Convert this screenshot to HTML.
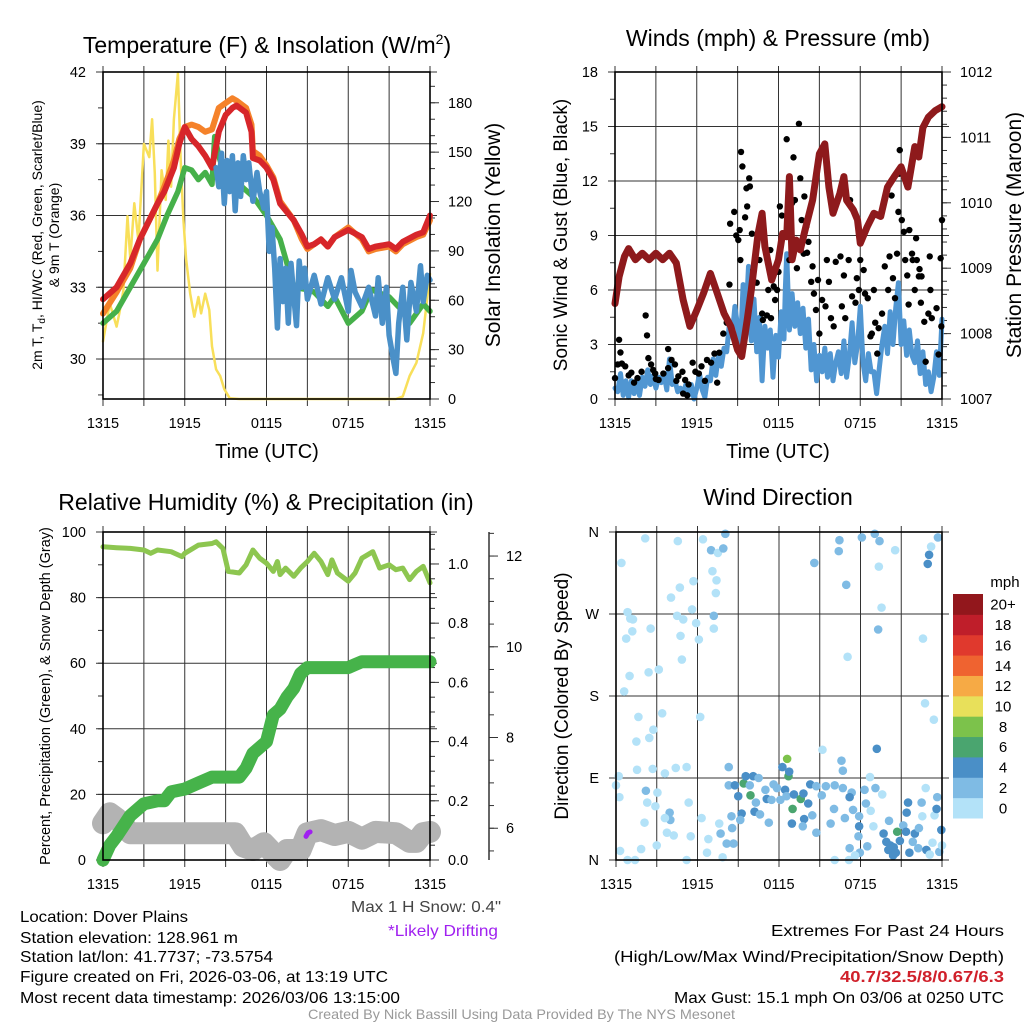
<!DOCTYPE html>
<html><head><meta charset="utf-8"><style>
html,body{margin:0;padding:0;background:#fff;}
svg{display:block;font-family:"Liberation Sans",sans-serif;}
</style></head><body>
<svg id="chart" width="1024" height="1024" viewBox="0 0 1024 1024" xmlns="http://www.w3.org/2000/svg">
<rect x="0" y="0" width="1024" height="1024" fill="#fff"/>
<text x="267" y="53" font-size="23" text-anchor="middle">Temperature (F) &amp; Insolation (W/m<tspan font-size="14" dy="-9">2</tspan><tspan dy="9">)</tspan></text>
<text x="778" y="46" font-size="23" text-anchor="middle">Winds (mph) &amp; Pressure (mb)</text>
<text x="266" y="510" font-size="23" text-anchor="middle">Relative Humidity (%) &amp; Precipitation (in)</text>
<text x="778" y="505" font-size="23" text-anchor="middle">Wind Direction</text>
<text x="267" y="458" font-size="20" text-anchor="middle">Time (UTC)</text>
<text x="778" y="458" font-size="20" text-anchor="middle">Time (UTC)</text>
<text transform="translate(42,235) rotate(-90)" font-size="14" text-anchor="middle">2m T, T<tspan font-size="10" dy="3">d</tspan><tspan dy="-3">, HI/WC (Red, Green, Scarlet/Blue)</tspan></text>
<text transform="translate(59,235) rotate(-90)" font-size="14" text-anchor="middle">&amp; 9m T (Orange)</text>
<text transform="translate(500,235) rotate(-90)" font-size="21" text-anchor="middle">Solar Insolation (Yellow)</text>
<text transform="translate(567,235) rotate(-90)" font-size="19" text-anchor="middle">Sonic Wind &amp; Gust (Blue, Black)</text>
<text transform="translate(1021,235) rotate(-90)" font-size="21" text-anchor="middle">Station Pressure (Maroon)</text>
<text transform="translate(50,696) rotate(-90)" font-size="14.5" text-anchor="middle">Percent, Precipitation (Green), &amp; Snow Depth (Gray)</text>
<text transform="translate(568,696) rotate(-90)" font-size="19" text-anchor="middle">Direction (Colored By Speed)</text>
<g font-family="'Liberation Sans Narrow','Liberation Sans',sans-serif" font-size="16">
<text x="20" y="922" textLength="168" lengthAdjust="spacingAndGlyphs">Location: Dover Plains</text>
<text x="20" y="943" textLength="218" lengthAdjust="spacingAndGlyphs">Station elevation: 128.961 m</text>
<text x="20" y="962" textLength="253" lengthAdjust="spacingAndGlyphs">Station lat/lon: 41.7737; -73.5754</text>
<text x="20" y="982" textLength="368" lengthAdjust="spacingAndGlyphs">Figure created on Fri, 2026-03-06, at 13:19 UTC</text>
<text x="20" y="1003" textLength="380" lengthAdjust="spacingAndGlyphs">Most recent data timestamp: 2026/03/06 13:15:00</text>
<text x="351" y="912" textLength="150" lengthAdjust="spacingAndGlyphs" fill="#444">Max 1 H Snow: 0.4"</text>
<text x="388" y="936" textLength="110" lengthAdjust="spacingAndGlyphs" fill="#a020f0">*Likely Drifting</text>
<text x="1004" y="936" text-anchor="end" textLength="233" lengthAdjust="spacingAndGlyphs">Extremes For Past 24 Hours</text>
<text x="1004" y="962" text-anchor="end" textLength="390" lengthAdjust="spacingAndGlyphs">(High/Low/Max Wind/Precipitation/Snow Depth)</text>
<text x="1004" y="982" text-anchor="end" textLength="164" lengthAdjust="spacingAndGlyphs" fill="#d0202a" font-weight="bold">40.7/32.5/8/0.67/6.3</text>
<text x="1004" y="1003" text-anchor="end" textLength="330" lengthAdjust="spacingAndGlyphs">Max Gust: 15.1 mph On 03/06 at 0250 UTC</text>
<text x="308" y="1019" textLength="427" lengthAdjust="spacingAndGlyphs" font-size="14" fill="#999">Created By Nick Bassill Using Data Provided By The NYS Mesonet</text>
</g>
</svg>
<script>
const timeTickLabels = ["1315","1915","0115","0715","1315"];
const tempHours = [0,1,2,2.7,4,4.5,5.2,5.6,6,6.5,7,7.5,8,8.5,9,9.5,9.8,10.5,10.9,11,11.5,12,12.5,13,14,14.6,15,15.5,16,16.5,17,18,19,19.5,20,21,21.5,22,23,23.5,24];
const tempRed = [32.5,33,34,35,36.5,37,38,39,39.7,39.2,38.9,38.5,38,39.5,40.2,40.5,40.6,40.3,39.5,38.4,38.3,38,37.5,36.5,35.8,35.2,34.7,34.8,35,34.7,35.1,35.4,35.1,34.6,34.7,34.8,34.6,34.9,35.2,35.3,36];
const tempOrange = [31.9,32.8,33.8,35,36.5,37.2,38.3,39.2,39.7,39.8,39.7,39.5,39.6,40.5,40.7,40.9,40.8,40.5,39.8,38.7,38.5,38.1,37.6,36.6,35.8,35.0,34.6,34.8,35.0,34.7,35.1,35.5,35.0,34.5,34.6,34.7,34.5,34.8,35.1,35.2,35.8];
const dewHours = [0,1,2,3,4,4.7,5.5,6,6.5,7,7.5,8,8.2,8.5,9,10,11,12,13,14,15,15.5,16.5,17,18,19,19.7,21,22,22.5,23.5,24];
const dewGreen = [31.5,32,33,34,35,36,37,38,37.9,37.5,37.8,37.3,39.3,38.5,37.5,37.3,36.8,36,35,33,32.9,32.8,32.2,32.6,31.5,32,32.9,32.6,32,31.5,32.3,32];
const wcHours = [8.3,8.5,8.7,8.9,9.1,9.3,9.5,9.7,9.9,10.1,10.3,10.5,10.7,11,11.3,11.5,11.8,12,12.2,12.4,12.6,12.8,13,13.2,13.4,13.6,13.8,14,14.2,14.4,14.6,14.8,15,15.5,16,16.5,17,17.5,18,18.2,18.5,19,19.5,20,20.2,20.5,20.8,21,21.3,21.5,21.7,22,22.3,22.6,23,23.3,23.5,23.8,24];
const wcBlue = [38,37.2,38.6,36.5,38.3,37,38.5,36.2,38.2,36.8,38.5,37.5,38.2,36.6,37.8,37.0,36.3,37,34.5,35.5,33.8,31.3,34.2,32.4,33.8,31.5,34,32.6,31.4,34.1,33,33.8,32.5,33.5,32.3,33.4,32.5,33.4,32,33.7,32.8,32.2,33,31.8,33.4,31.5,33,31,30,29.4,31.5,33,30.8,33.2,32,33.9,32.4,33.5,33.3];
const solarHours = [0,0.5,1,1.2,1.5,1.8,2,2.3,2.6,3,3.2,3.4,3.6,3.8,4,4.3,4.6,4.8,5,5.2,5.5,5.7,5.9,6.1,6.4,6.7,7,7.2,7.5,7.8,8,8.3,8.6,8.9,9.3,10,21.5,22,22.5,23,23.5,24];
const solarYellow = [35,58,44,52,66,111,85,119,96,155,151,147,170,137,78,139,121,157,129,170,198,145,109,85,64,50,62,52,64,54,32,18,14,6,0.5,0,0,1.6,14,22,40,76];
const windHours = [0,0.2,0.4,0.6,0.8,1.0,1.2,1.4,1.6,1.8,2.0,2.2,2.4,2.6,2.8,3.0,3.2,3.4,3.6,3.8,4.0,4.2,4.4,4.6,4.8,5.0,5.2,5.4,5.6,5.8,6.0,6.2,6.4,6.6,6.8,7.0,7.2,7.4,7.6,7.8,8.0,8.2,8.4,8.6,8.8,9.0,9.2,9.4,9.6,9.8,10.0,10.2,10.4,10.6,10.8,11.0,11.2,11.4,11.6,11.8,12.0,12.2,12.4,12.5,12.6,12.8,13.0,13.2,13.4,13.6,13.8,14.0,14.2,14.4,14.6,14.8,15.0,15.2,15.4,15.6,15.8,16.0,16.2,16.4,16.6,16.8,17.0,17.2,17.4,17.6,17.8,18.0,18.2,18.4,18.6,18.8,19.0,19.2,19.4,19.6,19.8,20.0,20.2,20.4,20.6,20.8,21.0,21.2,21.4,21.6,21.8,22.0,22.2,22.4,22.6,22.8,23.0,23.2,23.4,23.6,23.8,24.0];
const windSpeed = [0.6,0.4,1.4,0.2,1.0,0.1,1.0,0.3,1.0,0.2,1.2,0.7,1.6,0.8,1.3,0.6,1.2,0.9,1.4,0.5,2.2,0.8,1.0,0.4,0.6,0.3,0.8,0.2,0.8,0.0,0.6,1.4,0.5,0.1,1.2,1.0,2.2,1.3,2.4,1.8,2.8,2.6,4.2,3.5,5.1,4.0,2.8,6.3,4.3,7.3,3.2,5.5,2.6,4.5,1.0,4.0,2.8,3.8,1.2,3.5,2.3,4.8,3.3,6.0,8.0,3.8,5.8,4.0,5.3,3.6,5.0,2.8,4.4,1.6,3.0,1.0,2.4,1.5,2.8,1.2,2.5,1.0,2.0,2.6,1.4,3.2,1.2,2.4,4.2,2.0,3.0,5.1,2.0,1.0,2.5,1.5,1.5,0.3,1.7,3.0,4.0,2.5,4.8,3.0,5.0,6.4,3.0,4.3,2.4,3.8,2.4,2.0,3.2,1.4,2.6,0.8,1.5,0.4,1.2,2.6,1.3,4.4];
const gustHours = [0,0.3,0.4,0.2,0.5,0.75,1.2,1.65,1.95,2.25,2.35,2.45,2.65,2.95,3.2,3.55,3.9,4.15,4.4,4.65,4.95,5.15,5.4,5.7,5.9,6.15,6.35,6.75,7.05,7.3,7.65,7.95,8.2,8.4,8.45,8.75,8.9,9.05,9.15,9.2,9.25,9.35,9.55,9.65,9.7,9.85,9.9,10.05,10.15,10.4,10.6,10.8,10.85,11.15,11.25,11.4,11.45,11.65,11.75,11.9,12.0,12.1,12.25,12.6,12.8,13.0,13.1,13.2,13.35,13.5,13.6,13.7,13.85,13.9,14.05,14.1,14.2,14.4,14.5,14.6,14.75,14.9,15.0,15.2,15.45,15.55,15.7,15.85,16.05,16.2,16.55,16.65,16.8,16.9,17.15,17.25,17.4,17.65,17.75,17.9,18.0,18.25,18.35,18.55,18.75,18.85,19.0,19.1,19.25,19.35,19.6,19.8,20.05,20.15,20.3,20.4,20.55,20.7,20.8,20.9,20.85,21.05,21.2,21.3,21.45,21.55,21.6,21.8,21.85,22.0,22.1,22.15,22.3,22.5,22.35,22.45,22.7,22.8,23.0,23.1,23.15,23.25,23.6,23.75,23.9,24.0,23.95,1.0,1.4,2.8,3.0,3.9,4.5,5.0,5.3,6.6,7.5];
const gustSpeed = [1.15,3.26,2.56,1.9,1.95,1.8,1.45,1.15,1.5,4.6,3.5,2.25,1.9,1.4,1.05,1.4,2.75,2.15,1.9,1.25,1.5,1.05,0.8,2.0,1.5,1.4,1.8,2.15,2.0,2.5,2.55,3.6,4.2,6.3,9.65,10.3,9.0,8.75,9.3,7.65,13.6,12.8,10.0,11.6,10.6,12.15,11.7,9.1,7.1,6.4,7.65,4.7,4.35,4.6,6.0,8.2,4.45,6.2,5.45,6.0,7.0,10.6,10.1,14.3,7.65,10.8,13.3,10.95,7.2,15.15,12.15,9.85,8.0,11.15,9.5,8.05,8.65,6.45,7.3,5.8,4.9,6.55,3.6,5.45,5.1,7.65,6.45,4.45,4.0,7.55,7.85,5.1,6.8,4.45,7.65,10.95,5.65,5.3,6.65,6.0,7.65,7.1,5.8,5.55,3.45,3.6,6.0,4.2,2.5,3.9,4.7,7.3,6.0,7.85,11.2,6.65,5.55,8.0,10.3,13.7,12.4,9.85,9.2,7.65,6.8,5.2,9.3,8.0,7.65,6.0,8.85,7.65,6.75,6.75,7.15,5.3,4.25,2.05,4.7,7.85,6.0,4.45,5.0,2.45,7.75,9.85,4.0,1.3,0.9,1.6,1.1,1.7,1.0,0.3,0.2,1.0,0.9];
const presHours = [0,0.3,0.7,1,1.5,2,2.5,3,3.5,4,4.5,5,5.5,6,6.5,7,7.5,8,8.5,9,9.3,9.7,10,10.5,10.8,11,11.5,12,12.3,12.6,12.8,13,13.3,13.6,14,14.5,15,15.4,15.7,16,16.5,16.8,17,17.5,17.8,18,18.5,19,19.5,20,20.5,21,21.5,22,22.3,22.6,23,23.5,24];
const presMb = [1008.46,1008.87,1009.18,1009.3,1009.13,1009.23,1009.13,1009.23,1009.13,1009.23,1009.08,1008.52,1008.11,1008.36,1008.62,1008.92,1008.62,1008.31,1008.11,1007.75,1007.65,1008.21,1008.67,1009.53,1009.84,1009.33,1008.82,1009.13,1009.53,1009.48,1010.4,1009.13,1009.43,1009.28,1009.63,1010.04,1010.75,1010.9,1010.24,1009.84,1010.14,1010.4,1010.04,1009.89,1009.74,1009.38,1009.63,1009.84,1009.79,1010.24,1010.4,1010.55,1010.24,1010.86,1010.7,1011.15,1011.31,1011.41,1011.47];
const rhHours = [0,1,2,3,3.5,4,5,5.8,6,7,8,8.3,8.8,9.2,10,10.5,11,11.5,12,12.5,12.8,13,13.4,14,14.5,15,15.5,16,16.5,16.8,17.2,18,18.5,19,19.8,20.3,21,21.5,22,22.5,23,23.5,24];
const rhPct = [95.5,95.2,95,94.5,93.5,94.5,94,92.5,93.5,96,96.5,97,95,88,87.5,90,94.5,92,90.5,88,91,87,89,86.5,89,91,93.5,91,87,91.5,87.5,85,87.5,92,94,89,90,88.5,89,85.5,88,89.5,84.5];
const precipHours = [0,0.5,1,2,3,4,4.5,5,6,7,8,9,10,10.5,11,12,12.5,13,13.5,14,14.5,15,16,17,18,18.5,19,24];
const precipIn = [0,0.05,0.08,0.15,0.19,0.2,0.2,0.23,0.24,0.26,0.28,0.28,0.28,0.31,0.36,0.4,0.49,0.51,0.55,0.58,0.63,0.65,0.65,0.65,0.65,0.66,0.67,0.67];
const snowHours = [0,0.5,1,2,3,5,7,9,9.7,10.3,11,11.8,12.5,13,13.5,14.5,15,16,17,18,19,20,21.5,22.5,23,23.5,24];
const snowDepth = [6.11,6.33,6.22,5.89,5.89,5.89,5.89,5.89,5.89,5.6,5.52,5.67,5.45,5.30,5.52,5.52,5.89,5.96,5.85,5.92,5.77,5.92,5.89,5.7,5.7,5.89,5.92];
const driftHours = [14.9,15.05,15.2];
const driftDepth = [5.82,5.9,5.92];
const dirHours = [2.15,0.4,0.75,0.85,1.05,1.25,1.2,1.0,0.6,1.65,2.75,3.15,2.4,2.55,1.5,2.45,3.4,1.55,2.7,3.6,4.4,5.2,0.2,0,0.25,2.2,2.3,3.05,2.9,3.95,4.0,3.6,3.75,4.25,2.1,0.3,0.85,1.4,1.85,3.0,5.35,5.5,5.2,6.3,6.8,6.7,7.85,7.6,7.7,8.15,8.65,8.55,8.5,8.3,4.05,4.7,4.5,4.75,4.85,4.95,5.6,5.7,5.9,6.1,6.4,7.0,7.5,7.9,8.05,7.1,7.4,7.35,7.2,7.2,4.55,6.2,8.3,8.75,9.0,9.4,9.55,9.85,10.1,10.5,9.9,9.25,9.15,10.2,10.6,11.0,10.3,11.1,11.25,11.45,11.6,11.85,12.1,12.25,12.6,12.7,12.75,12.45,12.55,13.0,13.1,13.6,13.8,14.15,14.3,14.45,13.85,13.75,12.95,14.75,15.15,15.45,16.1,16.7,17.35,17.2,17.45,16.85,16.6,16.7,15.2,16.05,15.8,14.75,17.85,17.95,17.2,17.9,17.9,18.7,18.3,18.4,18.75,18.95,18.5,19.1,19.6,19.2,20.1,19.7,19.9,20.2,20.45,20.7,20.9,21.15,21.35,20.05,20.6,20.4,21.6,21.85,21.4,21.5,22.0,22.3,22.25,22.5,22.55,22.8,22.85,23.1,23.3,23.45,23.6,23.65,23.8,23.95,24.0,22.6,22.75,23.4,22.95,23.05,23.2,23.7,20.55,19.4,19.05,18.1,19.35,19.55,19.3,17.05,16.95,16.45,16.4,14.6,16.1,17.15,17.6];
const dirDeg = [353,326,243,272,265,264,251,202,185,157,143,209,206,254,130,134,161,99,100,95,101,102,92,82,69,76,63,74,59,52,44,46,30,27,41,10,0,0,12,16,63,26,0,46,23,8,3,40,29,18,18,35,48,102,288,299,268,246,220,264,275,306,260,242,352,340,337,342,358,317,307,293,268,254,350,157,82,82,70,84,92,82,92,90,71,51,44,53,50,77,63,67,41,66,83,79,66,102,111,92,97,77,70,56,72,67,73,62,83,49,45,37,40,81,71,81,82,79,74,69,55,46,109,98,121,56,40,30,26,8,13,48,37,91,77,62,54,37,15,79,72,122,43,29,20,16,14,31,21,38,31,11,8,5,8,20,52,63,29,35,13,63,48,79,11,6,19,49,56,69,9,33,16,243,172,154,325,335,344,354,340,350,358,354,322,277,253,223,302,351,339,326,0,0,5];
const dirSpeed = [1,1,1,1,1,1,1,1,1,1,1,1,1,1,1,1,1,1,1,1,1,1,1,1,1,3,1,1,1,3,3,1,1,1,1,1,1,1,1,1,1,1,1,1,1,1,1,1,3,3,3,3,3,3,1,1,1,1,1,1,1,1,1,1,1,3,1,3,3,1,1,1,3,1,1,1,3,5,5,7,5,3,5,3,7,5,3,5,3,3,3,5,3,3,3,3,3,5,9,7,5,5,3,7,5,7,5,5,5,3,5,3,5,3,3,3,3,3,3,5,3,3,3,3,1,3,3,3,3,3,3,3,5,1,3,3,1,1,3,3,1,5,3,5,5,5,5,7,5,3,5,5,5,5,5,3,5,5,5,3,3,3,1,1,5,1,1,1,5,3,3,5,1,1,1,1,5,5,1,3,1,3,3,3,1,1,3,1,3,3,3,3,1,1,1,1,1,1,1,1,1];
const cbarLabels = ["0","2","4","6","8","10","12","14","16","18","20+"];
const cbarColors = ["#b3e2f8","#7fbbe4","#4a8fc7","#4aa56f","#7cc24b","#e8e05a","#f6aa45","#ef6330","#e0392d","#bf1e2a","#92171c"];

const NS = "http://www.w3.org/2000/svg";
const svg = document.getElementById('chart');
function mk(tag, attrs, parent) {
  const e = document.createElementNS(NS, tag);
  for (const k in attrs) e.setAttribute(k, attrs[k]);
  (parent || svg).appendChild(e);
  return e;
}
function lin(d0, d1, r0, r1) { return v => r0 + (v - d0) / (d1 - d0) * (r1 - r0); }
function pathD(xs, ys, fx, fy) {
  return xs.map((h, i) => (i ? 'L' : 'M') + fx(h).toFixed(1) + ',' + fy(ys[i]).toFixed(1)).join('');
}
function drawLine(g, xs, ys, fx, fy, color, w, name) {
  const p = mk('path', {d: pathD(xs, ys, fx, fy), fill: 'none', stroke: color, 'stroke-width': w, 'stroke-linejoin': 'round', 'stroke-linecap': 'round'}, g);
  
  
  return p;
}
function panelFrame(name, P, leftTicks, leftMinor, fyL, leftFmt) {
  const g = mk('g', {});
  
  
  const fx = lin(0, 24, P.x0, P.x1);
  for (let h = 0; h <= 24; h += 3) {
    const x = fx(h);
    const gl = mk('line', {x1: x, x2: x, y1: P.y0 - 6, y2: P.y1 + 7, stroke: '#333', 'stroke-width': 1}, g);
    
    
  }
  timeTickLabels.forEach((lab, i) => {
    const t = mk('text', {x: fx(i * 6), y: P.y1 + 29, 'font-size': 14.5, 'text-anchor': 'middle'}, g);
    t.textContent = lab;
    
    
  });
  leftTicks.forEach(v => {
    const y = fyL(v);
    const gl = mk('line', {x1: P.x0 - 7, x2: P.x1 + 7, y1: y, y2: y, stroke: '#333', 'stroke-width': 1}, g);
    
    
    const t = mk('text', {x: P.x0 - 17, y: y + 5, 'font-size': 14.5, 'text-anchor': 'end'}, g);
    t.textContent = leftFmt(v);
    
    
  });
  leftMinor.forEach(v => {
    const y = fyL(v);
    mk('line', {x1: P.x0 - 5, x2: P.x0, y1: y, y2: y, stroke: '#333', 'stroke-width': 1}, g);
  });
  return {g, fx};
}
function rightAxis(g, P, ax, majors, minors, fy, fmt, labelX) {
  majors.forEach(v => {
    const y = fy(v);
    mk('line', {x1: ax, x2: ax + 9, y1: y, y2: y, stroke: '#333', 'stroke-width': 1}, g);
    const t = mk('text', {x: labelX, y: y + 5, 'font-size': 14.5}, g);
    t.textContent = fmt(v);
    
    
  });
  minors.forEach(v => {
    const y = fy(v);
    mk('line', {x1: ax, x2: ax + 5, y1: y, y2: y, stroke: '#333', 'stroke-width': 1}, g);
  });
}
function range(a, b, s) { const r = []; for (let v = a; v <= b + 1e-9; v += s) r.push(+v.toFixed(4)); return r; }
function frame(g, P) {
  const r = mk('rect', {x: P.x0, y: P.y0, width: P.x1 - P.x0, height: P.y1 - P.y0, fill: 'none', stroke: '#000', 'stroke-width': 1.6}, g);
  
  
}

(function () {
  const P = {x0: 103, x1: 430, y0: 72, y1: 399};
  const fyT = lin(28.33, 42, P.y1, P.y0);
  const fyS = lin(0, 198.7, P.y1, P.y0);
  const {g, fx} = panelFrame('temperature-panel', P, [30, 33, 36, 39, 42], range(28.5, 42, 1.5), fyT, v => String(v));
  rightAxis(g, P, P.x1, range(0, 180, 30), range(0, 190, 10), fyS, v => String(v), 448);
  drawLine(g, solarHours, solarYellow, fx, fyS, '#f8df5a', 2.5, 'solar-insolation-line');
  drawLine(g, tempHours, tempOrange, fx, fyT, '#f5822a', 6, 'temp-9m-line');
  drawLine(g, dewHours, dewGreen, fx, fyT, '#46b04a', 5.5, 'dewpoint-line');
  drawLine(g, tempHours, tempRed, fx, fyT, '#d7262a', 6, 'temp-2m-line');
  drawLine(g, wcHours, wcBlue, fx, fyT, '#4a90c8', 5.5, 'windchill-line');
  frame(g, P);
})();

(function () {
  const P = {x0: 615, x1: 942, y0: 72, y1: 399};
  const fyW = lin(0, 18, P.y1, P.y0);
  const fyP = lin(1007, 1012, P.y1, P.y0);
  const {g, fx} = panelFrame('winds-panel', P, range(0, 18, 3), range(0, 18, 1.5), fyW, v => String(v));
  rightAxis(g, P, P.x1, range(1007, 1012, 1), range(1007, 1012, 0.2), fyP, v => String(v), 960);
  drawLine(g, windHours, windSpeed, fx, fyW, '#5096d2', 5, 'sustained-wind-line');
  gustHours.forEach((h, i) => {
    const c = mk('circle', {cx: fx(h), cy: fyW(gustSpeed[i]), r: 3.2, fill: '#000'}, g);
    
    
  });
  drawLine(g, presHours, presMb, fx, fyP, '#8e1a1c', 7, 'pressure-line');
  frame(g, P);
})();

(function () {
  const P = {x0: 103, x1: 430, y0: 532, y1: 860};
  const fyL = lin(0, 100, P.y1, P.y0);
  const fyR = lin(0, 1.108, P.y1, P.y0);
  const fyS = lin(5.30, 12.53, P.y1, P.y0);
  const {g, fx} = panelFrame('humidity-panel', P, range(0, 100, 20), range(0, 100, 10), fyL, v => String(v));
  rightAxis(g, P, P.x1, range(0, 1.0, 0.2), range(0, 1.1, 0.05), fyR, v => v.toFixed(1), 448);
  const ax = mk('line', {x1: 489, x2: 489, y1: P.y0, y2: P.y1, stroke: '#333', 'stroke-width': 1.5}, g);
  
  
  rightAxis(g, P, 489, [6, 8, 10, 12], range(5.5, 12.5, 0.5), fyS, v => String(v), 506);
  drawLine(g, snowHours, snowDepth, fx, fyS, '#b3b3b3', 22, 'snow-depth-line');
  drawLine(g, driftHours, driftDepth, fx, fyS, '#a020f0', 5, 'drifting-snow-segment');
  drawLine(g, precipHours, precipIn, fx, fyR, '#46b34a', 13, 'precipitation-line');
  drawLine(g, rhHours, rhPct, fx, fyL, '#8dc650', 5, 'relative-humidity-line');
  frame(g, P);
})();

(function () {
  const P = {x0: 616, x1: 942, y0: 532, y1: 860};
  const fyD = lin(0, 360, P.y1, P.y0);
  const {g, fx} = panelFrame('wind-direction-panel', P, [0, 90, 180, 270, 360], [], fyD, v => ['N','E','S','W','N'][v / 90]);
  function colorFor(s) {
    if (s === undefined || isNaN(s)) s = 1;
    return cbarColors[Math.max(0, Math.min(10, Math.floor(s / 2)))];
  }
  dirHours.forEach((h, i) => {
    const c = mk('circle', {cx: fx(h), cy: fyD(dirDeg[i]), r: 4.3, fill: colorFor(dirSpeed[i])}, g);
    
    
  });
  frame(g, P);
  const cb = mk('g', {});
  
  
  const top = 594, bot = 818, bh = (bot - top) / 11;
  cbarColors.forEach((c, i) => {
    const y = bot - (i + 1) * bh;
    const r = mk('rect', {x: 953, y: y, width: 30, height: bh + 0.5, fill: c}, cb);
    
    
    const t = mk('text', {x: 1003, y: y + bh / 2 + 5.5, 'font-size': 15, 'text-anchor': 'middle'}, cb);
    t.textContent = cbarLabels[i];
    
    
  });
  const u = mk('text', {x: 1005, y: 587, 'font-size': 15, 'text-anchor': 'middle'}, cb);
  u.textContent = 'mph';
  
  
})();
</script>
</body></html>
